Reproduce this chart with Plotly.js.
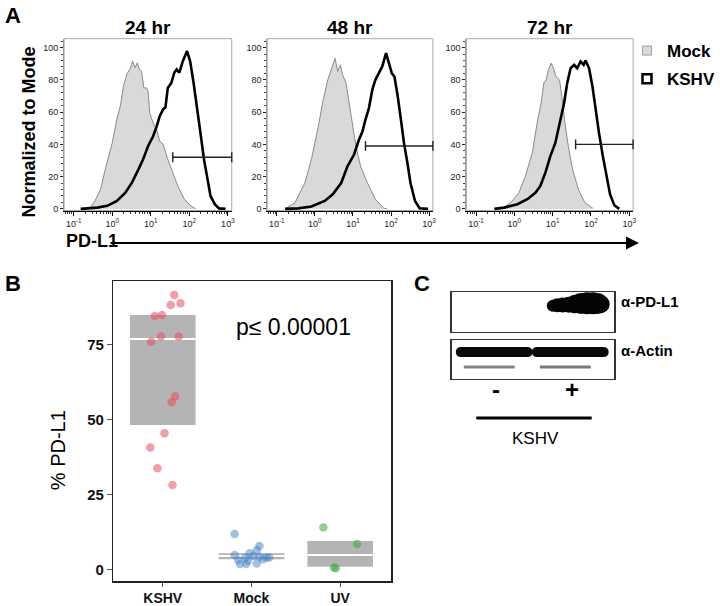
<!DOCTYPE html>
<html><head><meta charset="utf-8">
<script src="https://cdn.plot.ly/plotly-3.0.1.min.js"></script>
<style>html,body{margin:0;padding:0;background:#fff}#chart{width:720px;height:606px}</style>
</head><body><div id="chart"></div>
<script>
const FONT = 'Arial, "Liberation Sans", sans-serif';

// ---------- Panel A: flow histograms (x as log10 exponent, y = % of mode) ----------
const timepoints = ['24 hr', '48 hr', '72 hr'];
const mock24Log = [-0.60,-0.47,-0.30,-0.18,0.00,0.12,0.21,0.29,0.38,0.46,0.53,0.59,0.65,0.70,0.76,0.82,0.89,0.93,0.97,1.06,1.15,1.23,1.32,1.44,1.57,1.70,1.87,2.04,2.17];
const mock24Pct = [0,3.9,12.4,24.8,41,55.7,63.8,76,83.6,86.7,91.6,87.5,90.6,86.5,85.4,75,75,73,59.6,53.4,49.3,42,40,30.7,22.5,14.2,6,1.8,0];
const kshv24Log = [-0.82,-0.39,-0.13,0.12,0.34,0.51,0.68,0.80,0.93,1.06,1.15,1.23,1.32,1.38,1.44,1.53,1.61,1.67,1.74,1.83,1.94,2.02,2.11,2.21,2.30,2.38,2.47,2.55,2.66,2.77,2.94];
const kshv24Pct = [0,0.8,1.9,4.9,10,16.3,24.5,30.7,39,45,51,57.4,61.7,63,75,78,84.4,86.5,84.4,91.6,97.8,91.6,78,61.7,45,30.7,18.3,8,2.9,0.3,0];
const mock48Log = [-0.78,-0.52,-0.26,-0.09,0.09,0.22,0.34,0.43,0.53,0.60,0.67,0.73,0.82,0.90,0.99,1.08,1.20,1.38,1.59,1.81,1.90];
const mock48Pct = [0,3.9,16.2,30.7,51,67.7,80,86.2,93.4,85.2,89.3,83.1,78,65.6,53.3,38.9,26.5,16.2,6,0.4,0];
const kshv48Log = [-0.78,-0.43,-0.09,0.26,0.47,0.69,0.86,1.03,1.16,1.25,1.33,1.42,1.51,1.59,1.68,1.77,1.87,1.94,2.02,2.09,2.17,2.26,2.34,2.43,2.51,2.63,2.75,2.97];
const kshv48Pct = [0,0.3,1.5,4.9,9,16,26.5,33.7,43,48,55.4,62.5,73.9,80,84.1,88.3,96.5,90.3,84.1,82,70.8,55.4,40.9,28.6,16.2,4.9,0.4,0];
const mock72Log = [-0.35,-0.09,0.12,0.29,0.47,0.61,0.70,0.77,0.83,0.89,0.96,1.02,1.09,1.18,1.24,1.32,1.41,1.52,1.67,1.84,2.05];
const mock72Pct = [0,3.9,10,20.4,34.8,55.4,65.6,78,80,86.2,90.3,87.2,82,80,69.8,53.3,38.9,24.5,12.2,3.9,0.4];
const kshv72Log = [-0.52,-0.26,0.08,0.34,0.55,0.68,0.81,0.94,1.07,1.20,1.30,1.38,1.47,1.56,1.64,1.73,1.81,1.86,1.95,2.04,2.12,2.21,2.31,2.40,2.50,2.61,2.74];
const kshv72Pct = [0,0.8,2.9,6,10,14.2,22.4,32.7,40.9,55.4,65.6,78,87.2,89.3,87.2,91.4,89.3,92,87.2,75.9,61.5,47.1,32.7,20.4,9,2.3,0];
const gateStartLog = [1.57, 1.33, 1.60];
const gateEndLog = [3.1, 3.1, 3.1];
const gateLevel = [32, 39, 40];
const decadeExponents = [-1, 0, 1, 2, 3];
const decadeLabels = ['10<sup>-1</sup>', '10<sup>0</sup>', '10<sup>1</sup>', '10<sup>2</sup>', '10<sup>3</sup>'];
const yTicksA = [0, 20, 40, 60, 80, 100];
const legendNames = ['Mock', 'KSHV'];

// ---------- Panel B: % PD-L1 strip plot ----------
const groups = ['KSHV', 'Mock', 'UV'];
const kshvPct = [91.7,88.3,88.9,84.7,85,76.1,77.8,77.8,57.8,55.9,45.6,40.8,33.9,28.3];
const kshvJitter = [0.13,0.09,0.2,-0.09,-0.01,-0.13,-0.02,0.18,0.14,0.1,0.02,-0.14,-0.06,0.11];
const mockPct = [12,8,6.7,5,5.6,4.7,4.2,4.2,4.4,4.2,3.3,3.1,2.0,2.0,2.2,3.6];
const mockJitter = [-0.19,0.09,0.06,-0.19,-0.02,0.02,0.17,0.2,0.09,-0.07,-0.15,-0.04,-0.13,-0.06,0.06,0.13];
const uvPct = [14.2,8.7,0.8,0.6];
const uvJitter = [-0.19,0.19,-0.07,-0.05];
const boxQ1 = [48.3, 3.6, 1.1];
const boxMedian = [77, 4.7, 5.0];
const boxQ3 = [85, 5.6, 9.7];
const yTicksB = [0, 25, 50, 75];
const pValueText = 'p≤ 0.00001';

// ---------- Panel C: western blot ----------
const blotLanes = ['-', '+'];
const pdl1Signal = [0, 1];
const actinSignal = [1, 1];
const actinLowerSignal = [0.6, 0.65];

// ================= build =================
const W = 720, H = 606;
const px = v => v / W, py = v => 1 - v / H;
const traces = [];
const xDomA = [[65, 235], [271, 439], [473, 642]];
const histSets = [
  [mock24Log, mock24Pct, kshv24Log, kshv24Pct],
  [mock48Log, mock48Pct, kshv48Log, kshv48Pct],
  [mock72Log, mock72Pct, kshv72Log, kshv72Pct]
];
const pow10 = a => a.map(v => Math.pow(10, v));
histSets.forEach((s, i) => {
  const xa = i === 0 ? 'x' : 'x' + (i + 1), ya = i === 0 ? 'y' : 'y' + (i + 1);
  traces.push({type:'scatter', mode:'lines', x: pow10(s[0]), y: s[1], xaxis: xa, yaxis: ya,
    fill:'tozeroy', fillcolor:'#d9d9d9', line:{color:'#8a8a8a', width:1}, showlegend:false, hoverinfo:'skip'});
  traces.push({type:'scatter', mode:'lines', x: pow10(s[2]), y: s[3], xaxis: xa, yaxis: ya,
    line:{color:'#000', width:2.6}, showlegend:false, hoverinfo:'skip'});
  traces.push({type:'scatter', mode:'lines+markers', x: pow10([gateStartLog[i], gateEndLog[i]]), y:[gateLevel[i], gateLevel[i]],
    xaxis: xa, yaxis: ya, cliponaxis:false, line:{color:'#222', width:1.4},
    marker:{symbol:'line-ns-open', size:7, line:{color:'#222', width:1.4}}, showlegend:false, hoverinfo:'skip'});
});
// legend entries
traces.push({type:'scatter', mode:'markers', x:[null], y:[null], name: legendNames[0], legendgroup:'a',
  marker:{symbol:'square', size:9, color:'#d9d9d9', line:{color:'#a0a0a0', width:1}}});
traces.push({type:'scatter', mode:'markers', x:[null], y:[null], name: legendNames[1], legendgroup:'b',
  marker:{symbol:'square', size:9, color:'#fff', line:{color:'#000', width:2.5}}});

// Panel B
const boxW = 0.74;
traces.push({type:'bar', x: groups.map((g, i) => i), base: boxQ1, y: boxQ3.map((q, i) => q - boxQ1[i]),
  width: boxW, marker:{color:'#b4b4b4', line:{width:0}}, xaxis:'x4', yaxis:'y4', showlegend:false, hoverinfo:'skip'});
const medX = [], medY = [];
boxMedian.forEach((m, i) => { medX.push(i - boxW / 2, i + boxW / 2, null); medY.push(m, m, null); });
traces.push({type:'scatter', mode:'lines', x: medX, y: medY, line:{color:'#fff', width:2},
  xaxis:'x4', yaxis:'y4', showlegend:false, hoverinfo:'skip'});
const pointSets = [[kshvPct, kshvJitter, 'rgba(235,75,95,0.55)'], [mockPct, mockJitter, 'rgba(70,130,200,0.5)'], [uvPct, uvJitter, 'rgba(60,170,60,0.55)']];
pointSets.forEach((s, i) => {
  traces.push({type:'scatter', mode:'markers', x: s[1].map(j => i + j), y: s[0], xaxis:'x4', yaxis:'y4',
    marker:{size:8.5, color:s[2], line:{width:0}}, showlegend:false, hoverinfo:'skip'});
});

// Panel C
const topPxH = 40;
blotLanes.forEach((lab, i) => {
  if (pdl1Signal[i] > 0) {
    const offs = [-0.25,-0.19,-0.12,-0.04,0.04,0.12,0.20,0.28,0.34,0.38];
    const sizes = [12,14,15,16,18.5,21,22,22,21,18];
    const centerY = 0.72;
    traces.push({type:'scatter', mode:'markers', x: offs.map(o => i + o), y: sizes.map(s => centerY + (s - 22) / 4 / topPxH),
      xaxis:'x5', yaxis:'y5', cliponaxis:true,
      marker:{size: sizes.map(s => s * pdl1Signal[i]), color:'#050505', opacity:1, line:{width:0}}, showlegend:false, hoverinfo:'skip'});
  }
  if (actinSignal[i] > 0) {
    traces.push({type:'scatter', mode:'lines+markers', x:[i - 0.46, i + 0.42], y:[0.69, 0.69], xaxis:'x6', yaxis:'y6',
      line:{color:'#0a0a0a', width:10 * actinSignal[i]}, marker:{size:10 * actinSignal[i], color:'#0a0a0a', opacity:1},
      showlegend:false, hoverinfo:'skip'});
  }
  if (actinLowerSignal[i] > 0) {
    traces.push({type:'scatter', mode:'lines', x:[i - 0.42, i + 0.25], y:[0.31, 0.31], xaxis:'x6', yaxis:'y6',
      line:{color:'rgba(50,50,50,' + actinLowerSignal[i] + ')', width:3}, showlegend:false, hoverinfo:'skip'});
  }
});

// axes
const layout = {
  width: W, height: H, margin:{l:0, r:0, t:0, b:0},
  paper_bgcolor:'#fff', plot_bgcolor:'#fff',
  font:{family: FONT, color:'#000'},
  showlegend: true,
  legend:{x: px(636), y: py(33), xanchor:'left', yanchor:'top', font:{size:17, weight:700, family:FONT},
    bgcolor:'rgba(0,0,0,0)', tracegroupgap:3, itemwidth:30},
  annotations: [], shapes: []
};
const minorLog = [];
for (let p = -2; p <= 3; p++) for (let m = 2; m <= 9; m++) minorLog.push(m * Math.pow(10, p));
xDomA.forEach((d, i) => {
  const k = i === 0 ? '' : String(i + 1);
  layout['xaxis' + k] = {domain:[px(d[0]), px(d[1])], type:'log', range:[-1.25, 3.1], anchor:'y' + k,
    tickmode:'array', tickvals: pow10(decadeExponents), ticktext: decadeLabels,
    ticks:'outside', ticklen:4, tickwidth:1, tickcolor:'#000', tickfont:{size:9, color:'#222'},
    showline:true, linecolor:'#000', linewidth:1.6, showgrid:false, zeroline:false,
    minor:{tickmode:'array', tickvals:minorLog, ticks:'outside', ticklen:2, tickwidth:1, tickcolor:'#333', showgrid:false},
    fixedrange:true};
  layout['yaxis' + k] = {domain:[py(210.5), py(38.7)], range:[-1, 105.5], anchor:'x' + k,
    tickmode:'array', tickvals: yTicksA, ticks:'outside', ticklen:3, tickwidth:1, tickcolor:'#222',
    tickfont:{size:9, color:'#222'}, showline:true, linecolor:'#999', linewidth:1, showgrid:false, zeroline:false,
    minor:{tickmode:'linear', tick0:0, dtick:4, ticks:'outside', ticklen:2, tickwidth:1, tickcolor:'#444', showgrid:false},
    fixedrange:true};
  layout.shapes.push({type:'rect', xref:'x' + k + ' domain', yref:'y' + k + ' domain', x0:0, x1:1, y0:0, y1:1,
    line:{color:'#aaa', width:1}, layer:'below'});
  layout.annotations.push({xref:'x' + k + ' domain', yref:'paper', x:0.5, y:py(27), xanchor:'center', yanchor:'middle',
    text: timepoints[i], showarrow:false, font:{size:19, weight:700}});
});
layout.xaxis4 = {domain:[px(115), px(397)], range:[-0.556, 2.578], anchor:'y4',
  tickmode:'array', tickvals: groups.map((g, i) => i), ticktext: groups,
  ticks:'outside', ticklen:4, tickcolor:'#555', tickfont:{size:14, weight:700, color:'#111'},
  showline:true, linecolor:'#222', linewidth:1.5, mirror:true, showgrid:false, zeroline:false, fixedrange:true};
layout.yaxis4 = {domain:[py(581), py(281)], range:[-3.67, 96.33], anchor:'x4',
  tickmode:'array', tickvals: yTicksB, ticks:'outside', ticklen:5, tickcolor:'#555',
  tickfont:{size:15, weight:700, color:'#111'},
  showline:true, linecolor:'#222', linewidth:1.5, mirror:true, showgrid:false, zeroline:false, fixedrange:true};
const blotAxis = (dom, anchor) => ({domain:dom, range:[-0.58, 1.56], anchor:anchor, showline:true, mirror:true,
  linecolor:'#333', linewidth:1.3, ticks:'', showticklabels:false, showgrid:false, zeroline:false, fixedrange:true});
layout.xaxis5 = blotAxis([px(458), px(623)], 'y5');
layout.xaxis6 = blotAxis([px(458), px(623)], 'y6');
layout.yaxis5 = {domain:[py(332), py(292)], range:[0, 1], anchor:'x5', showline:true, mirror:true, linecolor:'#333',
  linewidth:1.3, ticks:'', showticklabels:false, showgrid:false, zeroline:false, fixedrange:true};
layout.yaxis6 = {domain:[py(379), py(340)], range:[0, 1], anchor:'x6', showline:true, mirror:true, linecolor:'#333',
  linewidth:1.3, ticks:'', showticklabels:false, showgrid:false, zeroline:false, fixedrange:true};

const A = layout.annotations;
const ann = (x, y, text, size, bold, extra) => A.push(Object.assign({xref:'paper', yref:'paper', x:px(x), y:py(y),
  xanchor:'center', yanchor:'middle', text:text, showarrow:false,
  font:{size:size, weight: bold ? 700 : 400, color:'#000'}}, extra || {}));
ann(13, 15, 'A', 22, true);
ann(13, 283, 'B', 22, true);
ann(428, 283, 'C', 22, true);
ann(29, 132, 'Normalized to Mode', 18, true, {textangle:-90});
ann(65, 241, 'PD-L1', 18, true, {xanchor:'left'});
A.push({xref:'paper', yref:'paper', x:px(648), y:py(243), ax:-530, ay:0, text:'', showarrow:true,
  arrowhead:2, arrowsize:1.3, arrowwidth:2, arrowcolor:'#000'});
ann(298, 327, pValueText, 23, false);
ann(59, 450, '% PD-L1', 20, false, {textangle:-90});
ann(628, 302, 'α-PD-L1', 15, true, {xanchor:'left'});
ann(628, 350, 'α-Actin', 15, true, {xanchor:'left'});
blotLanes.forEach((lab, i) => A.push({xref:'x6', yref:'paper', x:i, y:py(389), xanchor:'center', yanchor:'middle',
  text:lab, showarrow:false, font:{size:24, weight:700, color:'#000'}}));
ann(543, 438, 'KSHV', 17, false);
layout.shapes.push({type:'line', xref:'paper', yref:'paper', x0:px(483), x1:px(600), y0:py(418), y1:py(418),
  line:{color:'#000', width:3}});

Plotly.newPlot('chart', traces, layout, {staticPlot:true});
</script></body></html>
